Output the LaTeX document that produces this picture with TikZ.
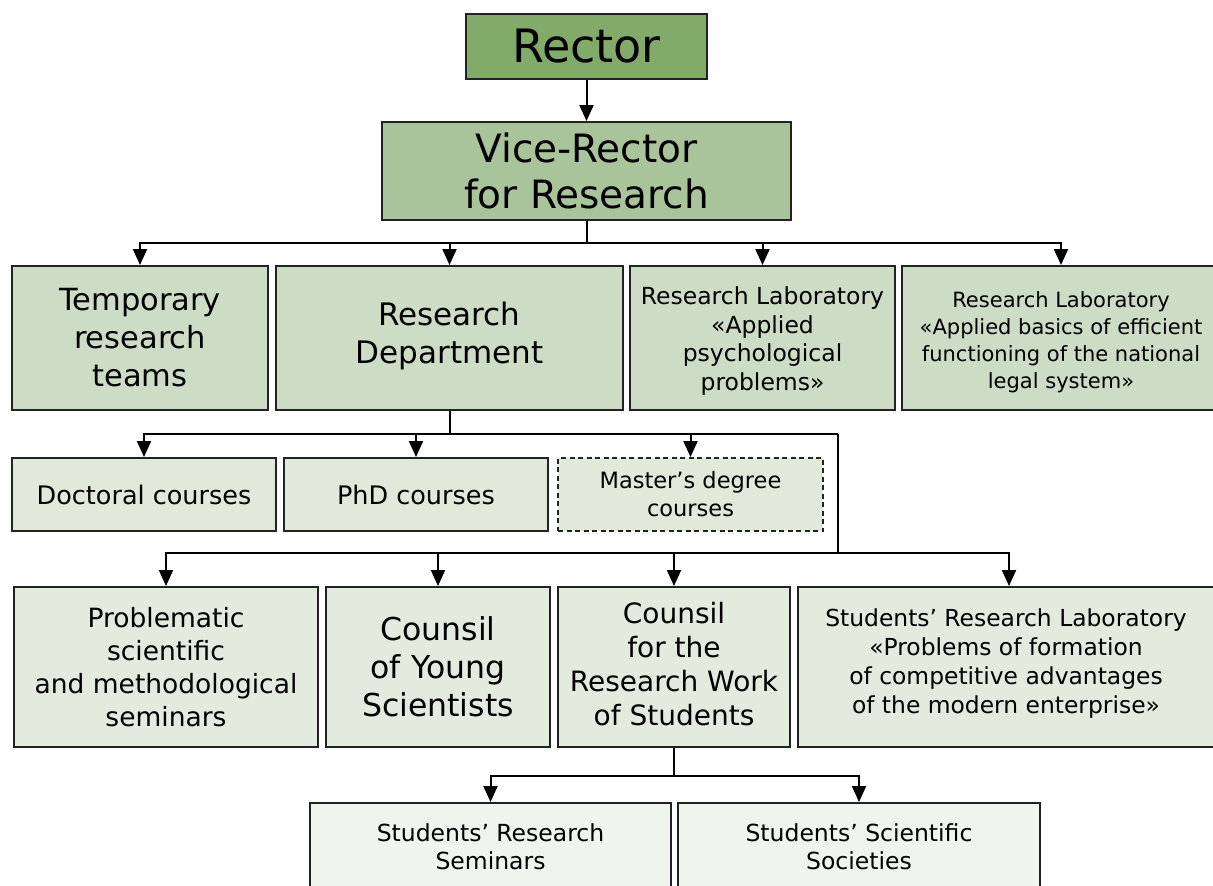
\documentclass[tikz,border=0pt]{standalone}
\usepackage{fontspec}
\setmainfont{DejaVu Sans}
\usetikzlibrary{arrows.meta,calc}
\newcommand\setfs[2]{\fontsize{#1}{#2}\selectfont}
\definecolor{cA}{HTML}{82AA69}
\definecolor{cB}{HTML}{A9C49A}
\definecolor{cC}{HTML}{CDDCC4}
\definecolor{cD}{HTML}{E0E9DA}
\definecolor{cE}{HTML}{E3EBDF}
\definecolor{cF}{HTML}{EFF4EC}
\definecolor{edge}{HTML}{222222}
\tikzset{
  box/.style={draw=edge, line width=2pt, inner sep=0pt, align=center, text=black},
  conn/.style={line width=2pt, draw=black},
  arr/.style={conn, -{Triangle[width=14pt,length=16pt]}},
}
\begin{document}
\begin{tikzpicture}[x=1pt,y=-1pt]
\useasboundingbox[fill=white] (0,0) rectangle (1213,886);
% level 0/1
\node[box, fill=cA, minimum width=241, minimum height=65, font=\setfs{46}{50}] (rector) at (586.5,46.5) {Rector};
\node[box, fill=cB, minimum width=409, minimum height=98, font=\setfs{39}{46}] (vice) at (586.5,171) {Vice-Rector\\for Research};
% level 2
\node[box, fill=cC, minimum width=256, minimum height=144, font=\setfs{30.5}{38}] (temp) at (140,338) {Temporary\\research\\teams};
\node[box, fill=cC, minimum width=347, minimum height=144] (rd) at (449.5,338) {};
\node[font=\setfs{31}{38}, align=center, inner sep=0pt] (rdt) at (449.5,336) {Research\\Department};
\node[box, fill=cC, minimum width=265, minimum height=144] (lab1) at (762.5,338) {};
\node[font=\setfs{23.5}{28.5}, align=center, inner sep=0pt] (lab1t) at (762.5,341) {Research Laboratory\\«Applied\\psychological\\problems»};
\node[box, fill=cC, minimum width=318, minimum height=144] (lab2) at (1061,338) {};
\node[font=\setfs{21}{27}, align=center, inner sep=0pt] (lab2t) at (1061,342) {Research Laboratory\\«Applied basics of efficient\\functioning of the national\\legal system»};
% level 3
\node[box, fill=cD, minimum width=264, minimum height=73, font=\setfs{25.5}{30}] (doc) at (144,494.5) {Doctoral courses};
\node[box, fill=cD, minimum width=264, minimum height=73, font=\setfs{25.5}{30}] (phd) at (416,494.5) {PhD courses};
\node[box, fill=cD, dash pattern=on 5pt off 3.5pt, minimum width=265, minimum height=73, font=\setfs{22.5}{28}] (mas) at (690.5,494.5) {Master’s degree\\courses};
% level 4
\node[box, fill=cE, minimum width=304, minimum height=160, font=\setfs{26.5}{33}] (prob) at (166,667) {Problematic\\scientific\\and methodological\\seminars};
\node[box, fill=cE, minimum width=224, minimum height=160, font=\setfs{31.5}{38}] (cys) at (438,667) {Counsil\\of Young\\Scientists};
\node[box, fill=cE, minimum width=232, minimum height=160] (crw) at (674,667) {};
\node[font=\setfs{28}{34}, align=center, inner sep=0pt] (crwt) at (674,664) {Counsil\\for the\\Research Work\\of Students};
\node[box, fill=cE, minimum width=422, minimum height=160] (srl) at (1009,667) {};
\node[font=\setfs{23.4}{29}, align=center, inner sep=0pt] (srlt) at (1006,664) {Students’ Research Laboratory\\«Problems of formation\\of competitive advantages\\of the modern enterprise»};
% level 5
\node[box, fill=cF, minimum width=361, minimum height=88, font=\setfs{23.5}{28}] (srs) at (490.5,847) {Students’ Research\\Seminars};
\node[box, fill=cF, minimum width=362, minimum height=88, font=\setfs{23.5}{28}] (sss) at (859,847) {Students’ Scientific\\Societies};
% connectors
\draw[arr] (rector.south) -- (vice.north);
\coordinate (b1) at ($(vice.south)+(0,22)$);
\draw[conn] (vice.south) -- (b1);
\draw[arr] (b1) -| (temp.north);
\draw[arr] (b1) -| (rd.north);
\draw[arr] (b1) -| (lab1.north);
\draw[arr] (b1) -| (lab2.north);
\coordinate (c1) at (838,434);
\coordinate (c2) at (838,553);
\draw[conn] (rd.south) -- (rd.south |- c1);
\draw[arr] (c1) -| (doc.north);
\draw[arr] (c1) -| (phd.north);
\draw[arr] (c1) -| (mas.north);
\draw[conn] (c1) -- (c2);
\draw[arr] (c2) -| (prob.north);
\draw[arr] (c2) -| (cys.north);
\draw[arr] (c2) -| (crw.north);
\draw[arr] (c2) -| (srl.north);
\coordinate (d1) at ($(crw.south)+(0,28)$);
\draw[conn] (crw.south) -- (d1);
\draw[arr] (d1) -| (srs.north);
\draw[arr] (d1) -| (sss.north);
\end{tikzpicture}
\end{document}
